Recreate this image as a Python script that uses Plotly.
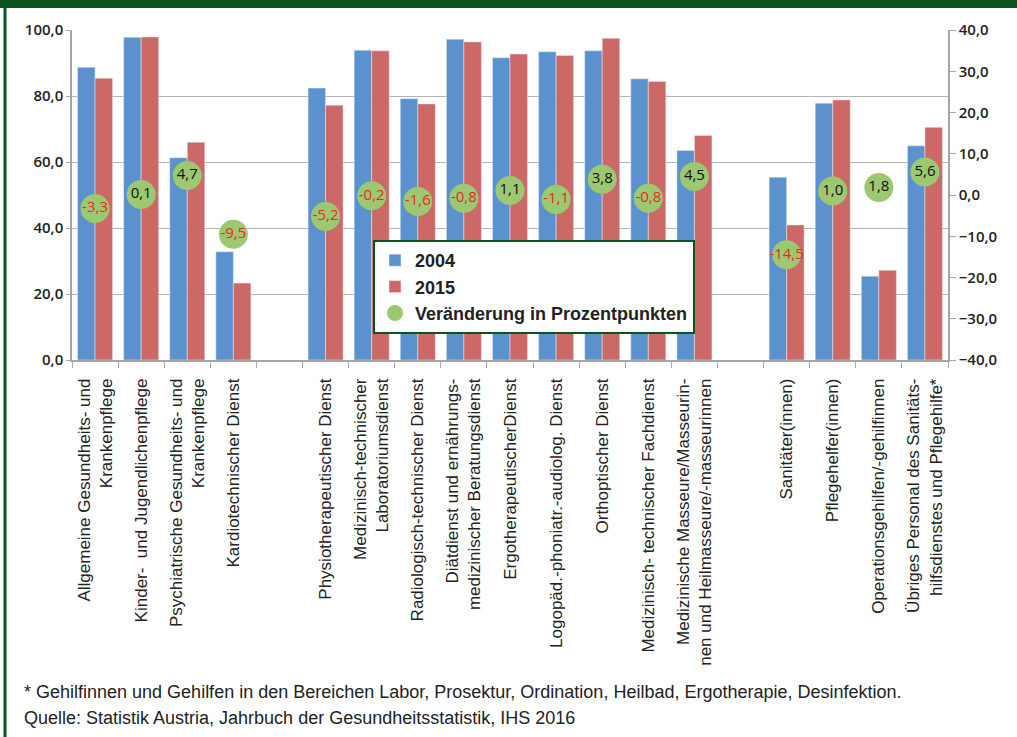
import plotly.graph_objects as go

# Berufsgruppen (two empty slots separate the three groups)
categories = [
    "Allgemeine Gesundheits- und<br>Krankenpflege",
    "Kinder-  und Jugendlichenpflege",
    "Psychiatrische Gesundheits- und<br>Krankenpflege",
    "Kardiotechnischer Dienst",
    " ",
    "Physiotherapeutischer Dienst",
    "Medizinisch-technischer<br>Laboratoriumsdienst",
    "Radiologisch-technischer Dienst",
    "Diätdienst und ernährungs-<br>medizinischer Beratungsdienst",
    "ErgotherapeutischerDienst",
    "Logopäd.-phoniatr.-audiolog. Dienst",
    "Orthoptischer Dienst",
    "Medizinisch- technischer Fachdienst",
    "Medizinische Masseure/Masseurin-<br>nen und Heilmasseure/-masseurinnen",
    "  ",
    "Sanitäter(innen)",
    "Pflegehelfer(innen)",
    "Operationsgehilfen/-gehilfinnen",
    "Übriges Personal des Sanitäts-<br>hilfsdienstes und Pflegehilfe*",
]

values_2004 = [88.7, 97.8, 61.3, 32.8, None, 82.4, 93.9, 79.2, 97.2, 91.6,
               93.4, 93.7, 85.2, 63.5, None, 55.4, 77.8, 25.4, 64.9]
values_2015 = [85.4, 97.9, 66.0, 23.3, None, 77.2, 93.7, 77.6, 96.4, 92.7,
               92.3, 97.5, 84.4, 68.0, None, 40.9, 78.8, 27.2, 70.5]
change_pp = [-3.3, 0.1, 4.7, -9.5, None, -5.2, -0.2, -1.6, -0.8, 1.1,
             -1.1, 3.8, -0.8, 4.5, None, -14.5, 1.0, 1.8, 5.6]

footnote = "* Gehilfinnen und Gehilfen in den Bereichen Labor, Prosektur, Ordination, Heilbad, Ergotherapie, Desinfektion."
source = "Quelle: Statistik Austria, Jahrbuch der Gesundheitsstatistik, IHS 2016"

BLUE = "#5b92cd"
RED = "#cc6865"
GREEN = "#9cc871"
FRAME = "#0b5420"
AXIS = "#a6a6a6"
GRID = "#b4b4b4"
TEXT = "#222222"

change_text = [("" if v is None else f"{v:.1f}".replace(".", ",")) for v in change_pp]
change_colors = [("#e8291f" if (v is not None and v < 0) else "#111111") for v in change_pp]

fig = go.Figure()
fig.add_trace(go.Bar(x=categories, y=values_2004, name="2004", marker_color=BLUE))
fig.add_trace(go.Bar(x=categories, y=values_2015, name="2015", marker_color=RED))
fig.add_trace(go.Scatter(
    x=categories, y=change_pp, yaxis="y2", name="Veränderung in Prozentpunkten",
    mode="markers+text", text=change_text, textposition="middle center",
    textfont=dict(family="Open Sans", size=15, color=change_colors),
    marker=dict(size=29, color=GREEN, line=dict(width=0)),
))

# plot area geometry in pixels
W, H = 1017, 737
ML, MR, MT, MB = 72, 69, 30, 377
PW, PH = W - ML - MR, H - MT - MB


def px_x(x):
    return (x - ML) / PW


def px_y(y):
    return (H - MB - y) / PH


tick_font = dict(family="Open Sans", size=15, color=TEXT, weight=600)

fig.update_layout(
    width=W, height=H,
    margin=dict(l=ML, r=MR, t=MT, b=MB, autoexpand=False),
    paper_bgcolor="white", plot_bgcolor="white",
    separators=",.",
    barmode="group", bargap=0.24, bargroupgap=0,
    xaxis=dict(
        type="category", categoryorder="array", categoryarray=categories,
        range=[-0.5, len(categories) - 0.5],
        tickangle=-90, tickson="boundaries", ticks="outside", ticklen=6,
        tickcolor=AXIS, showline=True, linecolor=AXIS, linewidth=1.5,
        showgrid=False, ticklabelstandoff=10,
        tickfont=dict(family="Liberation Sans", size=17, color=TEXT),
    ),
    yaxis=dict(
        range=[0, 100], dtick=20, tickformat=".1f", showgrid=True,
        gridcolor=GRID, gridwidth=1.3, showline=True, linecolor=AXIS,
        linewidth=1.5, ticks="outside", ticklen=4, tickcolor=AXIS,
        tickfont=tick_font, zeroline=False,
    ),
    yaxis2=dict(
        range=[-40, 40], dtick=10, tickformat=".1f", overlaying="y",
        side="right", showgrid=False, zeroline=False, showline=True,
        linecolor=AXIS, linewidth=1.5, ticks="outside", ticklen=6,
        tickcolor=AXIS, tickfont=tick_font,
    ),
    legend=dict(
        x=px_x(373), y=px_y(240), xanchor="left", yanchor="top",
        bgcolor="white", bordercolor=FRAME, borderwidth=2,
        font=dict(family="Liberation Sans", size=18, color=TEXT, weight="bold"),
        tracegroupgap=0, itemwidth=30,
    ),
    showlegend=True,
)

# green frame: band along the top, thin rule on the left
fig.add_shape(type="rect", xref="paper", yref="paper",
              x0=px_x(0), x1=px_x(W), y0=px_y(8), y1=px_y(0),
              fillcolor=FRAME, line=dict(width=0), layer="above")
fig.add_shape(type="line", xref="paper", yref="paper",
              x0=px_x(5), x1=px_x(5), y0=px_y(0), y1=px_y(H),
              line=dict(color=FRAME, width=3), layer="above")

for text, ypx in [(footnote, 692), (source, 718)]:
    fig.add_annotation(text=text, xref="paper", yref="paper",
                       x=px_x(22), y=px_y(ypx), xanchor="left", yanchor="middle",
                       showarrow=False,
                       font=dict(family="Liberation Sans", size=18, color=TEXT))

fig.write_html("out.html")
